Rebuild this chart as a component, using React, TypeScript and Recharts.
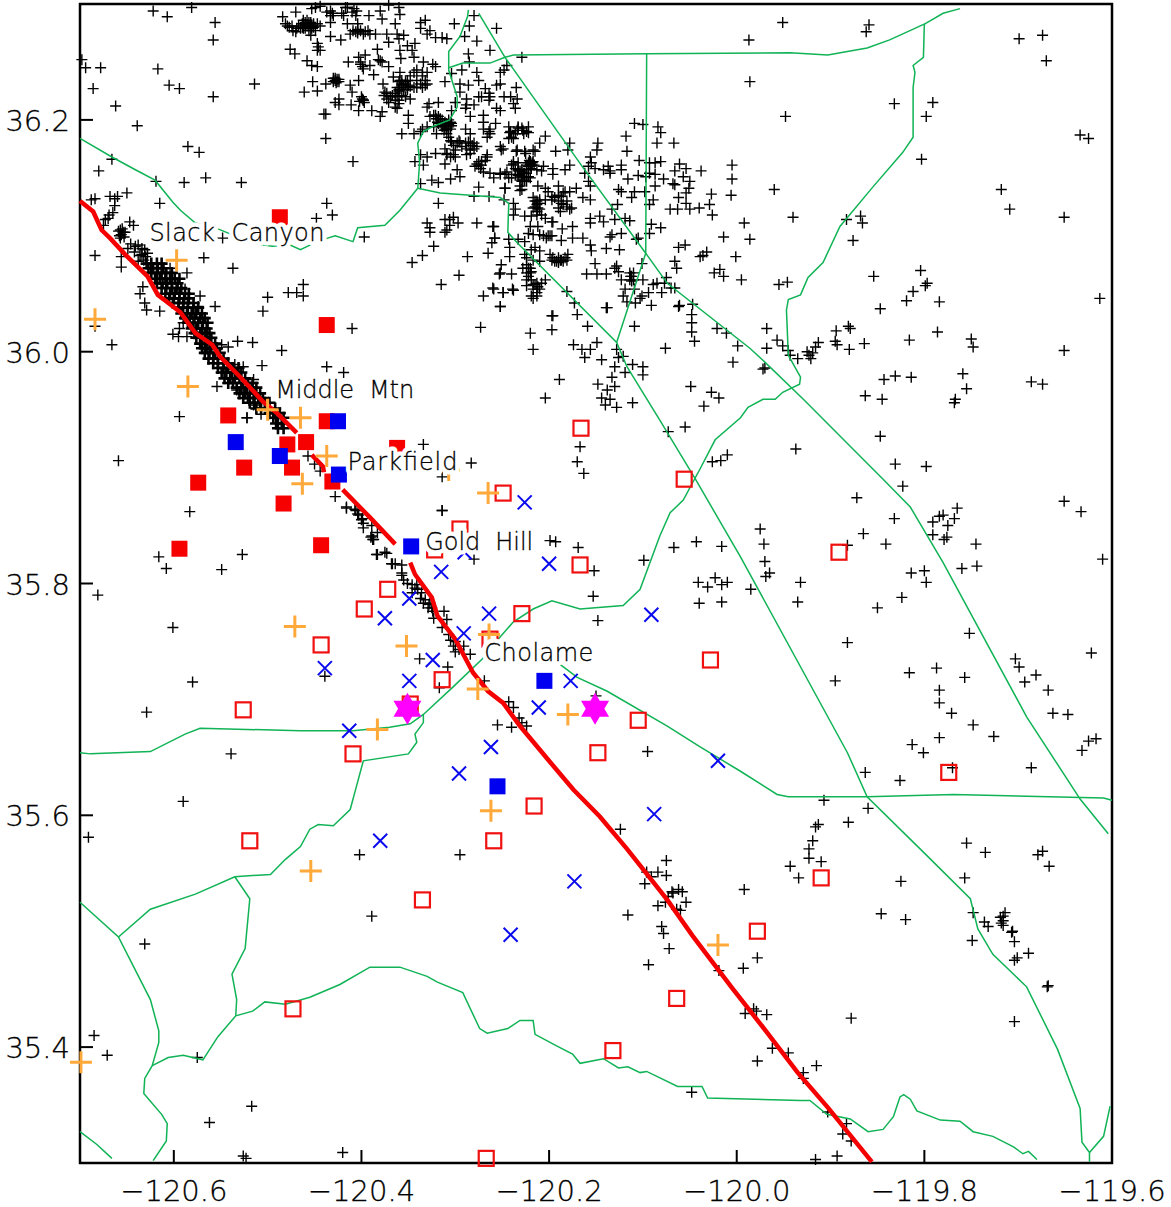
import React from "react";
import { ScatterChart, Scatter, XAxis, YAxis, ReferenceArea } from "recharts";

type P = [number, number];

const lonTicks = [-120.6, -120.4, -120.2, -120.0, -119.8, -119.6];
const latTicks = [35.4, 35.6, 35.8, 36.0, 36.2];

const quakesOuterNorth: P[] = [[-120.622,36.294],[-120.607,36.289],[-120.581,36.297],[-120.556,36.284],[-120.558,36.269],[-120.698,36.252],[-120.694,36.245],[-120.678,36.245],[-120.617,36.244],[-120.686,36.227],[-120.605,36.230],[-120.594,36.227],[-120.558,36.220],[-120.514,36.231],[-120.662,36.212],[-120.639,36.195],[-120.585,36.177],[-120.573,36.172],[-120.666,36.166],[-120.680,36.156],[-120.619,36.147],[-120.589,36.146],[-120.566,36.150],[-120.528,36.146],[-120.438,36.184],[-120.440,36.205],[-120.409,36.164],[-120.615,36.128],[-120.437,36.128],[-120.431,36.118],[-120.448,36.115],[-120.318,36.128],[-120.548,36.098],[-120.397,36.099],[-120.568,36.081],[-120.537,36.072],[-120.586,36.068],[-120.684,36.083],[-120.656,36.073],[-120.462,36.058],[-120.478,36.051],[-120.469,36.051],[-120.462,36.048],[-120.500,36.047],[-120.505,36.035],[-120.556,36.039],[-120.410,36.020],[-120.666,36.006],[-120.684,36.022],[-120.532,36.009],[-120.516,36.008],[-120.485,36.001],[-120.506,35.988],[-120.437,35.987],[-120.419,35.982],[-120.554,35.970],[-120.594,35.944],[-120.522,35.943],[-120.659,35.906],[-120.334,35.920],[-120.283,35.904],[-120.314,35.863],[-120.314,35.892],[-120.583,35.862],[-120.616,35.823],[-120.527,35.825],[-120.608,35.813],[-120.549,35.812]];

const quakesFaultTop: P[] = [[-120.688,36.131],[-120.684,36.132],[-120.668,36.134],[-120.663,36.132],[-120.660,36.134],[-120.650,36.137],[-120.663,36.126],[-120.665,36.120],[-120.669,36.118],[-120.673,36.114],[-120.675,36.109],[-120.670,36.115],[-120.657,36.105],[-120.656,36.101],[-120.654,36.103],[-120.657,36.098],[-120.647,36.112],[-120.643,36.109],[-120.649,36.089],[-120.641,36.091],[-120.634,36.089],[-120.631,36.088],[-120.636,36.083],[-120.656,36.082],[-120.638,36.078],[-120.636,36.050],[-120.633,36.056],[-120.631,36.042],[-120.629,36.036],[-120.615,36.035],[-120.588,36.054],[-120.572,36.048],[-120.574,36.039],[-120.590,36.025],[-120.594,36.020],[-120.601,36.015],[-120.595,36.013],[-120.586,36.013],[-120.549,36.006],[-120.542,36.004],[-120.535,35.989],[-120.526,35.987],[-120.515,35.976],[-120.533,35.967],[-120.526,35.963],[-120.522,35.943],[-120.507,35.946],[-120.604,36.072],[-120.515,35.954],[-120.659,36.104],[-120.655,36.106],[-120.658,36.100],[-120.653,36.099],[-120.652,36.103],[-120.646,36.093],[-120.642,36.086],[-120.638,36.092],[-120.634,36.084],[-120.630,36.082],[-120.632,36.079],[-120.628,36.085]];

const quakesFaultBand: P[] = [[-120.629,36.076],[-120.624,36.076],[-120.618,36.076],[-120.613,36.076],[-120.627,36.072],[-120.622,36.072],[-120.617,36.072],[-120.611,36.072],[-120.624,36.068],[-120.618,36.068],[-120.613,36.068],[-120.608,36.068],[-120.602,36.068],[-120.620,36.063],[-120.615,36.063],[-120.609,36.063],[-120.604,36.063],[-120.599,36.063],[-120.594,36.063],[-120.618,36.059],[-120.612,36.059],[-120.607,36.059],[-120.602,36.059],[-120.596,36.059],[-120.613,36.055],[-120.608,36.055],[-120.602,36.055],[-120.597,36.055],[-120.592,36.055],[-120.609,36.050],[-120.604,36.050],[-120.599,36.050],[-120.594,36.050],[-120.588,36.050],[-120.584,36.050],[-120.605,36.046],[-120.600,36.046],[-120.594,36.046],[-120.589,36.046],[-120.584,36.046],[-120.601,36.042],[-120.595,36.042],[-120.590,36.042],[-120.585,36.042],[-120.579,36.042],[-120.595,36.038],[-120.590,36.038],[-120.585,36.038],[-120.579,36.038],[-120.574,36.038],[-120.592,36.033],[-120.586,36.033],[-120.581,36.033],[-120.576,36.033],[-120.570,36.033],[-120.588,36.029],[-120.583,36.029],[-120.578,36.029],[-120.572,36.029],[-120.567,36.029],[-120.585,36.025],[-120.579,36.025],[-120.574,36.025],[-120.569,36.025],[-120.564,36.025],[-120.581,36.020],[-120.576,36.020],[-120.570,36.020],[-120.565,36.020],[-120.578,36.016],[-120.572,36.016],[-120.567,36.016],[-120.562,36.016],[-120.576,36.012],[-120.570,36.012],[-120.565,36.012],[-120.560,36.012],[-120.572,36.007],[-120.567,36.007],[-120.562,36.007],[-120.556,36.007],[-120.570,36.003],[-120.565,36.003],[-120.560,36.003],[-120.554,36.003],[-120.567,35.999],[-120.562,35.999],[-120.556,35.999],[-120.551,35.999],[-120.563,35.994],[-120.558,35.994],[-120.553,35.994],[-120.547,35.994],[-120.558,35.990],[-120.553,35.990],[-120.547,35.990],[-120.542,35.990],[-120.553,35.986],[-120.547,35.986],[-120.542,35.986],[-120.537,35.986],[-120.531,35.986],[-120.549,35.982],[-120.544,35.982],[-120.538,35.982],[-120.533,35.982],[-120.528,35.982],[-120.546,35.977],[-120.540,35.977],[-120.535,35.977],[-120.530,35.977],[-120.524,35.977],[-120.542,35.973],[-120.537,35.973],[-120.526,35.973],[-120.521,35.973],[-120.516,35.973],[-120.533,35.969],[-120.528,35.969],[-120.522,35.969],[-120.517,35.969],[-120.512,35.969],[-120.530,35.964],[-120.524,35.964],[-120.519,35.964],[-120.514,35.964],[-120.508,35.964],[-120.526,35.960],[-120.521,35.960],[-120.515,35.960],[-120.510,35.960],[-120.505,35.960],[-120.519,35.956],[-120.514,35.956],[-120.508,35.956],[-120.503,35.956],[-120.498,35.956],[-120.512,35.951],[-120.507,35.951],[-120.499,35.951],[-120.492,35.951],[-120.498,35.947],[-120.492,35.947],[-120.487,35.947],[-120.494,35.943],[-120.489,35.943],[-120.483,35.943],[-120.491,35.938],[-120.485,35.938],[-120.489,35.934],[-120.483,35.934]];

const quakesFaultSouth: P[] = [[-120.457,35.910],[-120.450,35.903],[-120.444,35.897],[-120.428,35.875],[-120.416,35.865],[-120.407,35.864],[-120.404,35.860],[-120.400,35.855],[-120.398,35.848],[-120.389,35.841],[-120.388,35.838],[-120.384,35.825],[-120.375,35.827],[-120.368,35.817],[-120.357,35.809],[-120.416,35.866],[-120.406,35.863],[-120.403,35.859],[-120.399,35.856],[-120.398,35.852],[-120.389,35.850],[-120.383,35.844],[-120.390,35.840],[-120.387,35.838],[-120.383,35.825],[-120.373,35.826],[-120.367,35.817],[-120.364,35.817],[-120.357,35.816],[-120.357,35.807],[-120.355,35.803],[-120.351,35.800],[-120.346,35.799],[-120.341,35.799],[-120.343,35.796],[-120.346,35.792],[-120.337,35.787],[-120.334,35.783],[-120.328,35.782],[-120.325,35.779],[-120.327,35.783],[-120.312,35.776],[-120.309,35.769],[-120.323,35.770],[-120.314,35.762],[-120.307,35.756],[-120.300,35.750],[-120.300,35.741],[-120.291,35.746],[-120.284,35.739],[-120.338,35.735],[-120.308,35.728],[-120.317,35.710],[-120.439,35.720],[-120.314,35.863],[-120.193,35.836],[-120.169,35.831],[-120.280,35.821],[-120.152,35.811],[-120.153,35.789],[-120.148,35.768],[-120.067,35.831],[-120.043,35.836],[-120.095,35.655],[-120.124,35.588],[-120.269,35.716],[-120.243,35.698],[-120.238,35.693],[-120.232,35.684],[-120.229,35.680],[-120.224,35.677],[-120.240,35.676],[-120.255,35.678],[-120.041,35.801],[-120.040,35.783],[-120.150,35.703],[-120.295,35.566],[-120.075,35.561],[-120.096,35.551],[-120.091,35.547],[-120.084,35.551],[-120.075,35.548],[-120.098,35.541],[-120.058,35.534],[-120.062,35.536],[-120.069,35.534],[-120.068,35.533],[-120.073,35.530],[-120.054,35.525],[-120.076,35.525],[-120.084,35.522],[-120.060,35.518],[-120.064,35.519],[-120.116,35.514],[-120.080,35.504],[-120.078,35.498],[-120.072,35.485],[-120.094,35.471],[-120.019,35.466],[-120.048,35.361],[-120.340,35.795],[-120.336,35.792],[-120.332,35.786],[-120.329,35.779],[-120.324,35.776],[-120.305,35.751],[-120.302,35.746],[-120.296,35.743]];

const quakesWestLower: P[] = [[-120.685,35.410],[-120.671,35.393],[-120.575,35.391],[-120.517,35.349],[-120.562,35.335],[-120.526,35.306],[-120.523,35.304],[-120.420,35.309],[-120.691,35.581],[-120.631,35.489],[-120.590,35.612],[-120.629,35.689],[-120.539,35.653],[-120.580,35.715],[-120.681,35.790],[-120.601,35.762],[-120.389,35.513],[-120.402,35.566]];

const quakesNorthWestCluster: P[] = [[-120.484,36.289],[-120.470,36.293],[-120.453,36.296],[-120.444,36.298],[-120.433,36.294],[-120.430,36.290],[-120.417,36.297],[-120.408,36.296],[-120.405,36.294],[-120.392,36.290],[-120.380,36.294],[-120.371,36.299],[-120.360,36.297],[-120.359,36.291],[-120.378,36.287],[-120.364,36.283],[-120.419,36.290],[-120.433,36.284],[-120.481,36.283],[-120.477,36.280],[-120.473,36.277],[-120.467,36.281],[-120.462,36.283],[-120.458,36.286],[-120.456,36.281],[-120.453,36.279],[-120.449,36.277],[-120.454,36.273],[-120.444,36.281],[-120.460,36.279],[-120.463,36.280],[-120.454,36.284],[-120.451,36.283],[-120.433,36.272],[-120.422,36.269],[-120.415,36.283],[-120.404,36.283],[-120.412,36.274],[-120.406,36.276],[-120.401,36.277],[-120.396,36.276],[-120.391,36.274],[-120.385,36.274],[-120.373,36.274],[-120.371,36.267],[-120.362,36.274],[-120.355,36.273],[-120.360,36.270],[-120.337,36.284],[-120.332,36.286],[-120.337,36.279],[-120.327,36.277],[-120.330,36.274],[-120.321,36.271],[-120.314,36.271],[-120.309,36.270],[-120.301,36.283],[-120.285,36.281],[-120.280,36.290],[-120.290,36.272],[-120.277,36.268],[-120.256,36.279],[-120.476,36.261],[-120.471,36.257],[-120.447,36.266],[-120.444,36.260],[-120.447,36.260],[-120.446,36.263],[-120.458,36.251],[-120.453,36.247],[-120.447,36.246],[-120.414,36.250],[-120.403,36.254],[-120.396,36.256],[-120.401,36.248],[-120.398,36.244],[-120.391,36.247],[-120.387,36.239],[-120.380,36.251],[-120.383,36.261],[-120.371,36.246],[-120.359,36.260],[-120.351,36.264],[-120.343,36.266],[-120.346,36.260],[-120.358,36.253],[-120.344,36.254],[-120.334,36.250],[-120.324,36.248],[-120.321,36.246],[-120.341,36.243],[-120.330,36.241],[-120.359,36.241],[-120.366,36.237],[-120.348,36.238],[-120.335,36.238],[-120.332,36.234],[-120.428,36.234],[-120.430,36.236],[-120.426,36.233],[-120.424,36.235],[-120.452,36.233],[-120.438,36.231],[-120.447,36.225],[-120.461,36.224],[-120.412,36.230],[-120.403,36.234],[-120.410,36.224],[-120.424,36.218],[-120.424,36.213],[-120.428,36.215],[-120.411,36.213],[-120.403,36.208],[-120.398,36.217],[-120.399,36.218],[-120.389,36.208],[-120.378,36.207],[-120.380,36.203],[-120.438,36.205],[-120.377,36.231],[-120.375,36.224],[-120.373,36.218],[-120.362,36.228],[-120.357,36.230],[-120.351,36.228],[-120.355,36.226],[-120.344,36.228],[-120.332,36.230],[-120.362,36.220],[-120.360,36.217],[-120.364,36.211],[-120.348,36.218],[-120.369,36.220],[-120.359,36.234],[-120.353,36.233],[-120.360,36.225]];

const quakesNorthWestExtra: P[] = [[-120.462,36.286],[-120.460,36.284],[-120.456,36.284],[-120.454,36.282],[-120.458,36.281],[-120.460,36.282],[-120.453,36.281],[-120.462,36.279],[-120.456,36.277],[-120.451,36.280],[-120.463,36.283],[-120.465,36.279],[-120.469,36.279],[-120.474,36.281],[-120.479,36.281],[-120.447,36.283],[-120.470,36.276],[-120.449,36.297],[-120.437,36.293],[-120.431,36.292],[-120.433,36.290],[-120.415,36.297],[-120.410,36.293],[-120.406,36.290],[-120.421,36.292],[-120.409,36.277],[-120.404,36.275],[-120.398,36.274],[-120.393,36.277],[-120.404,36.278],[-120.428,36.236],[-120.430,36.233],[-120.426,36.235],[-120.427,36.232],[-120.424,36.233],[-120.400,36.220],[-120.398,36.217],[-120.397,36.215],[-120.402,36.216],[-120.382,36.252],[-120.378,36.250],[-120.401,36.250],[-120.399,36.246],[-120.360,36.233],[-120.357,36.234],[-120.353,36.231],[-120.350,36.230],[-120.359,36.228],[-120.355,36.228],[-120.351,36.226],[-120.348,36.229],[-120.357,36.231],[-120.360,36.226],[-120.364,36.223],[-120.357,36.221],[-120.353,36.220],[-120.364,36.217],[-120.360,36.214],[-120.362,36.210],[-120.367,36.221],[-120.373,36.223],[-120.376,36.221],[-120.371,36.215],[-120.351,36.234],[-120.341,36.228],[-120.337,36.231],[-120.335,36.228],[-120.330,36.231],[-120.341,36.234],[-120.335,36.241],[-120.344,36.241],[-120.321,36.204],[-120.318,36.203],[-120.314,36.200],[-120.311,36.198],[-120.307,36.200],[-120.318,36.197],[-120.314,36.194],[-120.311,36.195],[-120.307,36.196],[-120.304,36.197],[-120.312,36.191],[-120.309,36.192],[-120.305,36.192],[-120.316,36.201],[-120.319,36.198],[-120.327,36.203],[-120.323,36.194],[-120.330,36.194],[-120.337,36.190],[-120.305,36.182],[-120.302,36.178],[-120.298,36.180],[-120.295,36.181],[-120.289,36.180],[-120.284,36.180],[-120.280,36.180],[-120.277,36.177],[-120.288,36.175],[-120.300,36.174],[-120.309,36.170],[-120.305,36.168],[-120.300,36.168],[-120.288,36.170],[-120.284,36.174],[-120.275,36.164],[-120.272,36.161],[-120.268,36.165],[-120.266,36.168],[-120.273,36.158],[-120.277,36.162],[-120.264,36.190],[-120.263,36.192],[-120.241,36.190],[-120.236,36.188],[-120.229,36.193],[-120.233,36.194],[-120.227,36.188],[-120.222,36.194],[-120.224,36.157],[-120.227,36.154],[-120.222,36.151],[-120.224,36.147],[-120.233,36.152],[-120.229,36.155]];

const quakesNorthMiddleCluster: P[] = [[-120.330,36.211],[-120.328,36.214],[-120.323,36.204],[-120.320,36.201],[-120.316,36.198],[-120.312,36.195],[-120.309,36.197],[-120.305,36.198],[-120.311,36.192],[-120.304,36.195],[-120.314,36.195],[-120.307,36.194],[-120.350,36.204],[-120.350,36.197],[-120.335,36.192],[-120.344,36.188],[-120.357,36.188],[-120.320,36.188],[-120.318,36.215],[-120.304,36.208],[-120.300,36.215],[-120.311,36.233],[-120.304,36.240],[-120.293,36.243],[-120.277,36.241],[-120.275,36.234],[-120.286,36.230],[-120.295,36.231],[-120.295,36.224],[-120.286,36.257],[-120.285,36.250],[-120.263,36.260],[-120.248,36.243],[-120.252,36.241],[-120.245,36.247],[-120.229,36.254],[-120.288,36.218],[-120.288,36.213],[-120.289,36.210],[-120.280,36.213],[-120.270,36.204],[-120.284,36.203],[-120.272,36.220],[-120.264,36.223],[-120.268,36.227],[-120.256,36.230],[-120.252,36.231],[-120.235,36.228],[-120.248,36.220],[-120.241,36.220],[-120.234,36.218],[-120.238,36.214],[-120.236,36.210],[-120.256,36.210],[-120.252,36.208],[-120.275,36.220],[-120.263,36.220],[-120.264,36.217],[-120.309,36.188],[-120.307,36.185],[-120.304,36.181],[-120.296,36.182],[-120.293,36.177],[-120.286,36.181],[-120.282,36.178],[-120.280,36.175],[-120.284,36.171],[-120.289,36.192],[-120.284,36.188],[-120.270,36.198],[-120.270,36.192],[-120.257,36.197],[-120.263,36.188],[-120.266,36.185],[-120.243,36.194],[-120.234,36.191],[-120.224,36.190],[-120.240,36.185],[-120.252,36.177],[-120.249,36.175],[-120.243,36.184],[-120.234,36.174],[-120.225,36.171],[-120.266,36.170],[-120.272,36.164],[-120.275,36.161],[-120.279,36.160],[-120.270,36.155],[-120.263,36.154],[-120.252,36.154],[-120.245,36.155],[-120.238,36.162],[-120.233,36.157],[-120.229,36.151],[-120.224,36.161],[-120.220,36.162],[-120.311,36.175],[-120.309,36.171],[-120.302,36.170],[-120.321,36.171],[-120.330,36.168],[-120.337,36.170],[-120.343,36.164],[-120.334,36.161],[-120.311,36.162],[-120.337,36.145],[-120.325,36.148],[-120.318,36.146],[-120.305,36.149],[-120.298,36.157],[-120.295,36.151],[-120.275,36.142],[-120.247,36.141],[-120.231,36.139],[-120.229,36.147],[-120.280,36.134],[-120.264,36.134],[-120.248,36.131]];

const quakesNorthEastCluster: P[] = [[-120.109,36.197],[-120.100,36.196],[-120.084,36.194],[-120.081,36.189],[-120.118,36.186],[-120.085,36.180],[-120.067,36.180],[-120.117,36.173],[-120.104,36.165],[-120.093,36.163],[-120.087,36.163],[-120.081,36.164],[-120.061,36.162],[-120.054,36.158],[-120.038,36.156],[-120.005,36.161],[-120.005,36.149],[-120.006,36.135],[-120.178,36.180],[-120.204,36.186],[-120.210,36.180],[-120.148,36.180],[-120.149,36.174],[-120.193,36.173],[-120.180,36.174],[-120.215,36.173],[-120.156,36.168],[-120.178,36.161],[-120.183,36.157],[-120.155,36.163],[-120.158,36.160],[-120.162,36.154],[-120.151,36.158],[-120.137,36.160],[-120.135,36.156],[-120.142,36.157],[-120.123,36.161],[-120.123,36.157],[-120.135,36.154],[-120.105,36.152],[-120.116,36.149],[-120.097,36.151],[-120.093,36.154],[-120.087,36.153],[-120.078,36.149],[-120.087,36.143],[-120.066,36.156],[-120.057,36.151],[-120.050,36.147],[-120.066,36.144],[-120.068,36.145],[-120.098,36.138],[-120.109,36.138],[-120.112,36.133],[-120.123,36.138],[-120.126,36.140],[-120.156,36.143],[-120.158,36.147],[-120.156,36.131],[-120.171,36.141],[-120.164,36.133],[-120.133,36.123],[-120.127,36.127],[-120.093,36.127],[-120.089,36.131],[-120.062,36.133],[-120.054,36.137],[-120.051,36.141],[-120.054,36.128],[-120.050,36.123],[-120.071,36.123],[-120.063,36.123],[-120.040,36.124],[-120.029,36.127],[-120.027,36.136],[-120.026,36.118],[-120.014,36.099],[-120.156,36.115],[-120.156,36.111],[-120.146,36.117],[-120.142,36.112],[-120.130,36.114],[-120.119,36.115],[-120.114,36.113],[-120.091,36.110],[-120.081,36.107],[-120.093,36.102],[-120.123,36.102],[-120.133,36.101],[-120.135,36.099],[-120.105,36.098],[-120.107,36.097],[-120.125,36.088],[-120.139,36.089],[-120.156,36.092],[-120.155,36.087],[-120.164,36.098],[-120.175,36.108],[-120.175,36.098],[-120.186,36.106],[-120.187,36.096],[-120.199,36.100],[-120.196,36.112],[-120.055,36.092],[-120.062,36.090],[-120.032,36.086],[-120.036,36.083],[-120.039,36.082],[-120.001,36.082],[-120.018,36.071],[-120.024,36.068],[-120.014,36.065],[-120.066,36.078],[-120.064,36.072],[-120.101,36.076],[-120.151,36.076],[-120.160,36.067],[-120.149,36.067],[-120.139,36.067],[-120.130,36.072],[-120.126,36.069],[-120.128,36.074],[-120.114,36.068],[-120.112,36.065],[-120.112,36.061],[-120.123,36.062],[-120.100,36.062],[-120.109,36.054],[-120.119,36.054],[-120.121,36.048],[-120.117,36.043],[-120.108,36.042],[-120.103,36.046],[-120.101,36.048],[-120.094,36.051],[-120.089,36.058],[-120.085,36.059],[-120.080,36.051],[-120.075,36.064],[-120.077,36.059],[-120.070,36.055],[-120.066,36.055],[-120.091,36.040],[-120.062,36.039],[-120.139,36.038],[-120.181,36.052],[-120.173,36.042],[-120.170,36.032],[-120.196,36.031],[-120.252,36.039],[-120.259,36.054],[-120.249,36.051],[-120.239,36.054],[-120.240,36.067],[-120.252,36.068],[-120.251,36.075],[-120.253,36.067],[-120.113,36.065],[-120.110,36.062],[-120.114,36.062],[-120.110,36.068]];

const quakesNorthDense: P[] = [[-120.220,36.164],[-120.219,36.161],[-120.222,36.163],[-120.217,36.164],[-120.220,36.160],[-120.238,36.164],[-120.233,36.163],[-120.240,36.161],[-120.236,36.158],[-120.231,36.156],[-120.228,36.151],[-120.233,36.153],[-120.222,36.151],[-120.226,36.148],[-120.231,36.143],[-120.229,36.140],[-120.243,36.150],[-120.252,36.153],[-120.259,36.150],[-120.247,36.141],[-120.213,36.157],[-120.208,36.156],[-120.206,36.160],[-120.196,36.158],[-120.196,36.153],[-120.212,36.143],[-120.204,36.141],[-120.190,36.143],[-120.201,36.138],[-120.190,36.135],[-120.185,36.137],[-120.178,36.138],[-120.194,36.133],[-120.197,36.131],[-120.187,36.128],[-120.181,36.125],[-120.178,36.123],[-120.190,36.124],[-120.188,36.121],[-120.217,36.133],[-120.213,36.130],[-120.210,36.128],[-120.215,36.125],[-120.212,36.124],[-120.238,36.128],[-120.236,36.123],[-120.238,36.118],[-120.226,36.117],[-120.219,36.117],[-120.213,36.118],[-120.208,36.118],[-120.204,36.115],[-120.197,36.112],[-120.220,36.108],[-120.212,36.108],[-120.222,36.102],[-120.217,36.101],[-120.206,36.100],[-120.203,36.098],[-120.215,36.090],[-120.219,36.088],[-120.210,36.087],[-120.226,36.084],[-120.224,36.081],[-120.217,36.079],[-120.199,36.084],[-120.197,36.079],[-120.192,36.078],[-120.188,36.079],[-120.185,36.078],[-120.180,36.084],[-120.181,36.079],[-120.210,36.078],[-120.222,36.072],[-120.220,36.068],[-120.228,36.072],[-120.219,36.062],[-120.213,36.059],[-120.208,36.059],[-120.217,36.054],[-120.213,36.051],[-120.224,36.057],[-120.217,36.046],[-120.243,36.097],[-120.242,36.090],[-120.242,36.082],[-120.233,36.097],[-120.226,36.095],[-120.259,36.108],[-120.258,36.098],[-120.261,36.094],[-120.242,36.189],[-120.238,36.184],[-120.233,36.193],[-120.228,36.191],[-120.222,36.189],[-120.251,36.174],[-120.235,36.173],[-120.226,36.173],[-120.217,36.174],[-120.221,36.165],[-120.218,36.163],[-120.220,36.162],[-120.216,36.161],[-120.222,36.160],[-120.219,36.158],[-120.229,36.157],[-120.226,36.154],[-120.233,36.156],[-120.229,36.151],[-120.224,36.151],[-120.231,36.148],[-120.228,36.147],[-120.220,36.150],[-120.240,36.150],[-120.236,36.153],[-120.247,36.153],[-120.215,36.130],[-120.212,36.128],[-120.213,36.127],[-120.210,36.131],[-120.217,36.124],[-120.210,36.123],[-120.213,36.121],[-120.204,36.131],[-120.197,36.134],[-120.187,36.134],[-120.183,36.138],[-120.190,36.130],[-120.185,36.127],[-120.181,36.130],[-120.176,36.124],[-120.196,36.081],[-120.194,36.078],[-120.190,36.081],[-120.187,36.079],[-120.190,36.077],[-120.183,36.081],[-120.224,36.075],[-120.220,36.072],[-120.219,36.069],[-120.224,36.068],[-120.222,36.065],[-120.215,36.058],[-120.212,36.056],[-120.217,36.058],[-120.210,36.054],[-120.213,36.048],[-120.219,36.048],[-120.224,36.062],[-120.204,36.062],[-120.201,36.100],[-120.197,36.100],[-120.210,36.101]];

const quakesNorthSouthFringe: P[] = [[-120.330,36.111],[-120.327,36.107],[-120.327,36.103],[-120.311,36.114],[-120.306,36.114],[-120.302,36.116],[-120.297,36.111],[-120.306,36.109],[-120.309,36.105],[-120.311,36.103],[-120.277,36.111],[-120.260,36.108],[-120.323,36.091],[-120.335,36.083],[-120.346,36.077],[-120.287,36.082],[-120.296,36.066],[-120.315,36.058],[-120.265,36.085],[-120.258,36.098],[-120.270,36.048],[-120.260,36.055],[-120.249,36.051],[-120.238,36.053],[-120.252,36.039],[-120.273,36.021],[-120.220,36.016],[-120.197,36.031],[-120.197,36.019],[-120.217,36.002],[-120.189,35.976],[-120.204,35.960],[-120.174,36.006],[-120.165,36.002],[-120.159,36.022],[-120.162,35.995],[-120.156,36.002],[-120.149,36.008],[-120.144,35.993],[-120.128,36.002],[-120.126,35.995],[-120.121,35.996],[-120.130,35.987],[-120.111,35.989],[-120.100,35.987],[-120.100,35.980],[-120.119,35.982],[-120.133,35.978],[-120.148,35.972],[-120.130,35.970],[-120.138,35.967],[-120.144,35.960],[-120.135,35.959],[-120.140,35.954],[-120.128,35.952],[-120.111,35.956],[-120.049,35.970],[-120.027,35.965],[-120.019,35.960],[-120.035,35.953],[-120.047,36.041],[-120.048,36.032],[-120.048,36.025],[-120.048,36.017],[-120.045,36.009],[-120.021,36.020],[-120.011,36.016],[-119.999,36.005],[-120.004,35.991],[-120.076,36.003],[-120.109,36.022],[-120.138,36.038],[-120.061,36.040],[-120.167,35.918],[-120.170,35.905],[-120.163,35.895],[-120.073,35.931],[-120.055,35.935],[-120.017,35.906],[-120.010,35.911],[-120.026,35.905],[-120.016,35.832],[-120.016,35.784],[-120.023,35.805],[-120.016,35.799],[-120.031,35.797],[-120.010,35.801],[-120.199,35.837],[-120.099,35.820]];

const quakesEastTop: P[] = [[-119.951,36.284],[-119.987,36.269],[-119.859,36.282],[-119.862,36.276],[-119.699,36.270],[-119.674,36.273],[-119.670,36.251],[-119.986,36.233],[-119.948,36.203],[-119.832,36.214],[-119.791,36.215],[-119.798,36.203],[-119.634,36.187],[-119.625,36.184],[-119.803,36.166],[-119.960,36.140],[-119.718,36.140],[-119.709,36.123],[-119.651,36.116],[-119.940,36.116],[-119.992,36.111],[-119.986,36.097],[-119.883,36.114],[-119.868,36.117],[-119.866,36.111],[-119.876,36.096],[-119.854,36.065],[-119.804,36.070],[-119.797,36.059],[-119.799,36.057],[-119.812,36.052],[-119.819,36.044],[-119.784,36.043],[-119.847,36.037],[-119.613,36.046],[-119.955,36.058],[-119.946,36.060],[-119.995,36.062],[-119.968,36.020],[-119.957,36.010],[-119.968,36.003],[-119.951,36.005],[-119.945,36.001],[-119.943,35.997],[-119.935,35.994],[-119.913,36.008],[-119.916,36.004],[-119.925,36.000],[-119.919,35.999],[-119.923,35.997],[-119.921,35.994],[-119.894,36.018],[-119.881,36.022],[-119.879,36.020],[-119.895,36.009],[-119.893,36.006],[-119.880,36.002],[-119.864,36.007],[-119.816,36.010],[-119.786,36.017],[-119.750,36.011],[-119.748,36.004],[-119.651,36.001],[-119.970,35.986],[-119.972,35.985],[-119.843,35.976],[-119.831,35.979],[-119.814,35.978],[-119.759,35.981],[-119.755,35.968],[-119.686,35.974],[-119.674,35.972],[-119.863,35.962],[-119.845,35.959],[-119.767,35.959]];

const quakesEastMiddle: P[] = [[-119.768,35.956],[-119.847,35.927],[-119.937,35.916],[-119.831,35.903],[-119.798,35.901],[-119.823,35.884],[-119.872,35.874],[-119.651,35.871],[-119.633,35.862],[-119.765,35.865],[-119.780,35.859],[-119.784,35.858],[-119.791,35.853],[-119.768,35.856],[-119.775,35.850],[-119.832,35.856],[-119.865,35.843],[-119.791,35.842],[-119.776,35.840],[-119.779,35.838],[-119.841,35.834],[-119.745,35.834],[-119.882,35.833],[-119.975,35.847],[-119.971,35.834],[-119.970,35.819],[-119.965,35.809],[-119.969,35.806],[-119.985,35.795],[-119.932,35.801],[-119.935,35.784],[-119.610,35.821],[-119.760,35.813],[-119.744,35.815],[-119.814,35.809],[-119.800,35.811],[-119.798,35.801],[-119.824,35.788],[-119.850,35.779],[-119.752,35.757],[-119.882,35.749],[-119.622,35.740],[-119.703,35.735],[-119.699,35.728],[-119.681,35.721],[-119.693,35.715],[-119.668,35.708],[-119.663,35.688],[-119.647,35.687],[-119.816,35.723],[-119.787,35.727],[-119.757,35.719],[-119.895,35.716],[-119.784,35.708],[-119.784,35.697],[-119.771,35.688],[-119.748,35.678],[-119.726,35.668],[-119.784,35.667],[-119.813,35.661],[-119.801,35.654],[-119.617,35.666],[-119.625,35.664],[-119.632,35.656],[-119.863,35.637],[-119.826,35.630],[-119.770,35.641],[-119.686,35.641]];

const quakesEastLower: P[] = [[-119.907,35.613],[-119.860,35.606],[-119.881,35.594],[-119.913,35.592],[-119.916,35.590],[-119.919,35.578],[-119.923,35.571],[-119.923,35.563],[-119.910,35.560],[-119.943,35.556],[-119.934,35.546],[-119.992,35.536],[-119.755,35.576],[-119.735,35.568],[-119.674,35.569],[-119.679,35.566],[-119.667,35.556],[-119.757,35.546],[-119.825,35.543],[-119.846,35.515],[-119.820,35.510],[-119.748,35.516],[-119.736,35.508],[-119.732,35.504],[-119.749,35.492],[-119.714,35.516],[-119.716,35.513],[-119.719,35.512],[-119.716,35.509],[-119.718,35.507],[-119.716,35.505],[-119.706,35.500],[-119.707,35.499],[-119.704,35.491],[-119.689,35.481],[-119.701,35.477],[-119.704,35.475],[-119.668,35.453],[-119.669,35.452],[-119.704,35.422],[-119.878,35.425],[-119.978,35.477],[-119.993,35.468],[-119.991,35.429],[-119.982,35.433],[-119.979,35.431],[-119.968,35.428],[-119.962,35.399],[-119.945,35.395],[-119.978,35.388],[-119.915,35.384],[-119.929,35.378],[-119.929,35.373],[-119.903,35.344],[-119.883,35.334],[-119.887,35.325],[-119.878,35.319],[-119.916,35.303],[-119.893,35.306]];

const allQuakes = [...quakesOuterNorth, ...quakesFaultTop, ...quakesFaultSouth, ...quakesWestLower, ...quakesNorthWestCluster, ...quakesNorthWestExtra, ...quakesNorthMiddleCluster, ...quakesNorthEastCluster, ...quakesNorthDense, ...quakesNorthSouthFringe, ...quakesEastTop, ...quakesEastMiddle, ...quakesEastLower];

const faultNorth: P[] = [[-120.700,36.130],[-120.686,36.121],[-120.677,36.105],[-120.668,36.098],[-120.652,36.084],[-120.628,36.065],[-120.617,36.049],[-120.604,36.041],[-120.593,36.034],[-120.577,36.016],[-120.559,36.006],[-120.551,35.996],[-120.529,35.978],[-120.505,35.957],[-120.490,35.947],[-120.469,35.930]];
const faultPark: P[] = [[-120.453,35.911],[-120.441,35.901],[-120.440,35.896]];
const faultGold: P[] = [[-120.420,35.881],[-120.391,35.857],[-120.364,35.834]];
const faultSouth: P[] = [[-120.348,35.818],[-120.343,35.808],[-120.325,35.788],[-120.319,35.772],[-120.300,35.752],[-120.281,35.723],[-120.265,35.707],[-120.249,35.697],[-120.231,35.677],[-120.199,35.646],[-120.174,35.622],[-120.146,35.599],[-120.117,35.571],[-120.074,35.527],[-120.047,35.496],[-120.004,35.450],[-119.968,35.413],[-119.935,35.378],[-119.903,35.348],[-119.856,35.301]];

const roadA: P[] = [[-120.700,36.184],[-120.666,36.168],[-120.641,36.157],[-120.620,36.148],[-120.601,36.129],[-120.593,36.122],[-120.577,36.111],[-120.553,36.106],[-120.538,36.101],[-120.519,36.094],[-120.495,36.091],[-120.476,36.092],[-120.465,36.088],[-120.455,36.092],[-120.436,36.098],[-120.428,36.100],[-120.409,36.095],[-120.404,36.107],[-120.375,36.109],[-120.359,36.122],[-120.340,36.141]];
const roadB: P[] = [[-120.340,36.141],[-120.316,36.137],[-120.252,36.133],[-120.243,36.128],[-120.244,36.103],[-120.234,36.094],[-120.128,36.008],[-120.117,35.987],[-120.082,35.941],[-120.044,35.890],[-119.996,35.823],[-119.882,35.654],[-119.861,35.616],[-119.797,35.565],[-119.751,35.528],[-119.743,35.502],[-119.727,35.480],[-119.691,35.452],[-119.658,35.398],[-119.634,35.347],[-119.632,35.318],[-119.624,35.309],[-119.624,35.301]];
const roadC: P[] = [[-119.624,35.309],[-119.609,35.323],[-119.602,35.349]];
const roadD: P[] = [[-120.340,36.141],[-120.338,36.163],[-120.340,36.180],[-120.334,36.190],[-120.322,36.195],[-120.306,36.200],[-120.298,36.211],[-120.298,36.220],[-120.307,36.243],[-120.307,36.259],[-120.295,36.272],[-120.287,36.289],[-120.286,36.295]];
const roadE: P[] = [[-120.307,36.245],[-120.292,36.249],[-120.263,36.249],[-120.247,36.254],[-120.238,36.256],[-120.096,36.257],[-119.943,36.258],[-119.903,36.256],[-119.861,36.262],[-119.837,36.269],[-119.799,36.283],[-119.780,36.292],[-119.762,36.296]];
const roadF: P[] = [[-120.096,36.257],[-120.097,36.085],[-120.128,36.008]];
const roadG: P[] = [[-120.275,36.292],[-120.247,36.254],[-120.164,36.159],[-120.097,36.085],[-120.074,36.059],[-119.986,36.003],[-119.970,35.991],[-119.929,35.959],[-119.844,35.890],[-119.815,35.866],[-119.780,35.818],[-119.691,35.685],[-119.634,35.614],[-119.604,35.584]];
const roadH: P[] = [[-119.800,36.283],[-119.801,36.254],[-119.812,36.247],[-119.810,36.241],[-119.812,36.228],[-119.812,36.185],[-119.823,36.172],[-119.855,36.142],[-119.890,36.108],[-119.908,36.077],[-119.924,36.064],[-119.932,36.049],[-119.945,36.045],[-119.947,36.036],[-119.945,35.997],[-119.932,35.978],[-119.933,35.972],[-119.951,35.965],[-119.959,35.959],[-119.972,35.959],[-119.988,35.952],[-119.996,35.943],[-120.023,35.924],[-120.039,35.899],[-120.057,35.872],[-120.071,35.861],[-120.082,35.841],[-120.103,35.795],[-120.121,35.781],[-120.167,35.778],[-120.197,35.785],[-120.217,35.778],[-120.238,35.767],[-120.252,35.754],[-120.271,35.735],[-120.302,35.711],[-120.334,35.687],[-120.348,35.679],[-120.370,35.676],[-120.409,35.673],[-120.465,35.673],[-120.572,35.675],[-120.588,35.670],[-120.625,35.655],[-120.689,35.653],[-120.700,35.654]];
const roadI: P[] = [[-120.334,35.687],[-120.334,35.680],[-120.343,35.670],[-120.341,35.663],[-120.350,35.653],[-120.398,35.647],[-120.407,35.620],[-120.412,35.605],[-120.430,35.591],[-120.446,35.592],[-120.455,35.588],[-120.465,35.573],[-120.481,35.562],[-120.497,35.549],[-120.535,35.547],[-120.577,35.532],[-120.625,35.519],[-120.659,35.495]];
const roadJ: P[] = [[-120.535,35.547],[-120.519,35.528],[-120.524,35.485],[-120.538,35.463],[-120.533,35.441],[-120.534,35.427]];
const roadK: P[] = [[-120.700,35.525],[-120.659,35.495],[-120.625,35.441],[-120.616,35.414],[-120.616,35.404],[-120.623,35.384],[-120.631,35.373],[-120.632,35.360],[-120.613,35.342],[-120.607,35.334],[-120.608,35.319],[-120.622,35.302]];
const roadL: P[] = [[-120.623,35.384],[-120.606,35.391],[-120.590,35.393],[-120.569,35.389],[-120.553,35.409],[-120.534,35.427],[-120.516,35.431],[-120.503,35.439],[-120.481,35.437],[-120.455,35.443],[-120.423,35.454],[-120.391,35.469],[-120.359,35.469],[-120.330,35.461],[-120.319,35.456],[-120.292,35.447],[-120.274,35.416],[-120.266,35.412],[-120.244,35.416],[-120.231,35.423],[-120.217,35.423],[-120.215,35.411],[-120.192,35.401],[-120.175,35.394],[-120.167,35.386],[-120.142,35.390],[-120.126,35.382],[-120.116,35.383],[-120.103,35.378],[-120.096,35.379],[-120.063,35.366],[-120.037,35.366],[-120.031,35.356],[-119.932,35.354],[-119.922,35.354],[-119.904,35.342],[-119.879,35.338],[-119.860,35.327],[-119.844,35.329],[-119.833,35.340],[-119.826,35.357],[-119.822,35.359],[-119.815,35.355],[-119.808,35.345],[-119.783,35.337],[-119.762,35.336],[-119.748,35.327],[-119.727,35.323],[-119.705,35.314],[-119.695,35.308],[-119.689,35.310],[-119.680,35.303]];
const roadM: P[] = [[-120.700,35.327],[-120.682,35.316],[-120.666,35.304]];
const roadN: P[] = [[-120.188,35.730],[-120.170,35.719],[-120.138,35.707],[-120.074,35.677],[-120.039,35.659],[-119.996,35.638],[-119.957,35.618],[-119.945,35.616],[-119.861,35.616],[-119.769,35.618],[-119.609,35.615],[-119.600,35.613]];
const roads = [roadA, roadB, roadC, roadD, roadE, roadF, roadG, roadH, roadI, roadJ, roadK, roadL, roadM, roadN];
const faults = [faultNorth, faultPark, faultGold, faultSouth];

const orangePlus: P[] = [[-120.684,36.028],[-120.597,36.079],[-120.585,35.970],[-120.500,35.950],[-120.465,35.943],[-120.437,35.910],[-120.463,35.886],[-120.307,35.898],[-120.265,35.878],[-120.471,35.763],[-120.352,35.746],[-120.264,35.756],[-120.276,35.709],[-120.383,35.674],[-120.180,35.687],[-120.262,35.604],[-120.454,35.552],[-120.020,35.488],[-120.699,35.387]];
const blueCross: P[] = [[-120.226,35.870],[-120.200,35.817],[-120.315,35.810],[-120.290,35.827],[-120.349,35.787],[-120.375,35.770],[-120.264,35.774],[-120.291,35.757],[-120.091,35.773],[-120.324,35.734],[-120.439,35.727],[-120.349,35.716],[-120.177,35.716],[-120.211,35.693],[-120.413,35.673],[-120.262,35.659],[-120.296,35.636],[-120.020,35.647],[-120.088,35.601],[-120.380,35.578],[-120.173,35.543],[-120.241,35.497]];
const redOpen: P[] = [[-120.166,35.934],[-120.056,35.890],[-120.249,35.878],[-120.295,35.847],[-120.322,35.829],[-120.167,35.816],[-119.891,35.827],[-120.372,35.795],[-120.397,35.778],[-120.229,35.774],[-120.443,35.747],[-120.263,35.752],[-120.028,35.734],[-120.314,35.717],[-120.348,35.696],[-120.526,35.691],[-120.105,35.682],[-120.409,35.653],[-120.148,35.654],[-119.774,35.637],[-120.216,35.608],[-120.519,35.578],[-120.259,35.578],[-119.910,35.546],[-120.335,35.527],[-119.978,35.500],[-120.064,35.442],[-120.473,35.433],[-120.132,35.397],[-120.267,35.304]];
const redFilled: P[] = [[-120.487,36.116],[-120.437,36.023],[-120.542,35.945],[-120.437,35.940],[-120.479,35.920],[-120.459,35.922],[-120.362,35.917],[-120.474,35.900],[-120.525,35.900],[-120.574,35.887],[-120.431,35.888],[-120.483,35.869],[-120.443,35.833],[-120.594,35.830]];
const blueFilled: P[] = [[-120.425,35.940],[-120.534,35.922],[-120.487,35.910],[-120.424,35.894],[-120.347,35.832],[-120.205,35.716],[-120.255,35.625]];
const magentaStars: P[] = [[-120.351,35.692],[-120.151,35.692]];

const placeNames = ["Slack  Canyon", "Middle  Mtn", "Parkfield", "Gold  Hill", "Cholame"];
const placeLon = [-120.626, -120.492, -120.415, -120.332, -120.269];
const placeLat = [36.103, 35.968, 35.906, 35.837, 35.741];
const placeWidths = [175, 139, 110, 108, 109];

const toRows = (pts: P[]) => pts.map(([lon, lat]) => ({ lon, lat }));
const labelRows = placeNames.map((name, i) => ({ lon: placeLon[i], lat: placeLat[i], name, w: placeWidths[i] }));

const FONT = "'DejaVu Sans', sans-serif";
const Nothing = () => <g />;

const BlackPlus = ({ cx, cy }: any) => <path d={`M${cx - 5.5} ${cy}H${cx + 5.5}M${cx} ${cy - 5.5}V${cy + 5.5}`} stroke="#000" strokeWidth={1.4} fill="none" />;
const HeavyPlus = ({ cx, cy }: any) => <path d={`M${cx - 6} ${cy}H${cx + 6}M${cx} ${cy - 6}V${cy + 6}`} stroke="#000" strokeWidth={2.6} fill="none" />;
const OrangePlus = ({ cx, cy }: any) => <path d={`M${cx - 11} ${cy}H${cx + 11}M${cx} ${cy - 11}V${cy + 11}`} stroke="#ffa93a" strokeWidth={3} fill="none" />;
const BlueX = ({ cx, cy }: any) => <path d={`M${cx - 7} ${cy - 7}L${cx + 7} ${cy + 7}M${cx - 7} ${cy + 7}L${cx + 7} ${cy - 7}`} stroke="#0a0aee" strokeWidth={2} fill="none" />;
const RedOpen = ({ cx, cy }: any) => <rect x={cx - 7.5} y={cy - 7.5} width={15} height={15} stroke="#f01010" strokeWidth={2.2} fill="none" />;
const RedFilled = ({ cx, cy }: any) => <rect x={cx - 8} y={cy - 8} width={16} height={16} fill="#f60000" />;
const BlueFilled = ({ cx, cy }: any) => <rect x={cx - 8} y={cy - 8} width={16} height={16} fill="#0000f0" />;
const Star = ({ cx, cy }: any) => (
  <path d={`M${cx} ${cy - 16}L${cx + 14} ${cy + 8}H${cx - 14}ZM${cx} ${cy + 16}L${cx - 14} ${cy - 8}H${cx + 14}Z`} fill="#ff00ff" />
);
const PlaceLabel = ({ cx, cy, payload }: any) => {
  const common = { x: cx, y: cy + 9, fontFamily: FONT, fontWeight: 200, fontSize: 24, textLength: payload.w, lengthAdjust: "spacing", xmlSpace: "preserve" } as any;
  return (
    <g>
      <text {...common} fill="#fff" stroke="#fff" strokeWidth={9} strokeLinejoin="round">{payload.name}</text>
      <text {...common} fill="#000" stroke="#000" strokeWidth={0.3}>{payload.name}</text>
    </g>
  );
};

const BottomTick = ({ x, y, payload }: any) => (
  <g>
    <line x1={x} x2={x} y1={y} y2={y - 13} stroke="#000" strokeWidth={2} />
    <text x={x} y={y + 38} textAnchor="middle" fontFamily={FONT} fontWeight={200} fontSize={29} fill="#000" stroke="#000" strokeWidth={0.3}>{`\u2212${Math.abs(payload.value).toFixed(1)}`}</text>
  </g>
);
const LeftTick = ({ x, y, payload }: any) => (
  <g>
    <line x1={x} x2={x + 13} y1={y} y2={y} stroke="#000" strokeWidth={2} />
    <text x={x - 10} y={y + 11} textAnchor="end" fontFamily={FONT} fontWeight={200} fontSize={29} fill="#000" stroke="#000" strokeWidth={0.3}>{Number(payload.value).toFixed(1)}</text>
  </g>
);

export default function App() {
  return (
    <div style={{ position: "absolute", left: 0, top: 0, width: 1171, height: 1207, background: "#fff" }}>
      <ScatterChart width={1171} height={1207} margin={{ top: 4, left: 0, right: 59, bottom: 0 }}>
        <XAxis type="number" dataKey="lon" domain={[-120.7, -119.6]} ticks={lonTicks} height={44} axisLine={false} tickLine={false} tickSize={0} tick={<BottomTick />} interval={0} tickMargin={0} />
        <YAxis type="number" dataKey="lat" domain={[35.3, 36.3]} ticks={latTicks} width={80} axisLine={false} tickLine={false} tickSize={0} tick={<LeftTick />} interval={0} tickMargin={0} />
        <Scatter data={toRows(allQuakes)} shape={<BlackPlus />} isAnimationActive={false} />
        <Scatter data={toRows(quakesFaultBand)} shape={<HeavyPlus />} isAnimationActive={false} />
        {roads.map((r, i) => (
          <Scatter key={`road${i}`} data={toRows(r)} line={{ stroke: "#10b355", strokeWidth: 1.5 }} shape={<Nothing />} isAnimationActive={false} />
        ))}
        {faults.map((r, i) => (
          <Scatter key={`fault${i}`} data={toRows(r)} line={{ stroke: "#f50000", strokeWidth: 4.5 }} shape={<Nothing />} isAnimationActive={false} />
        ))}
        <Scatter data={toRows(redOpen)} shape={<RedOpen />} isAnimationActive={false} />
        <Scatter data={toRows(redFilled)} shape={<RedFilled />} isAnimationActive={false} />
        <Scatter data={toRows(orangePlus)} shape={<OrangePlus />} isAnimationActive={false} />
        <Scatter data={toRows(blueCross)} shape={<BlueX />} isAnimationActive={false} />
        <Scatter data={toRows(blueFilled)} shape={<BlueFilled />} isAnimationActive={false} />
        <Scatter data={toRows(magentaStars)} shape={<Star />} isAnimationActive={false} />
        <Scatter data={labelRows} shape={<PlaceLabel />} isAnimationActive={false} />
        <ReferenceArea x1={-120.7} x2={-119.6} y1={35.3} y2={36.3} fill="none" stroke="#000" strokeWidth={2.5} ifOverflow="visible" />
      </ScatterChart>
    </div>
  );
}
